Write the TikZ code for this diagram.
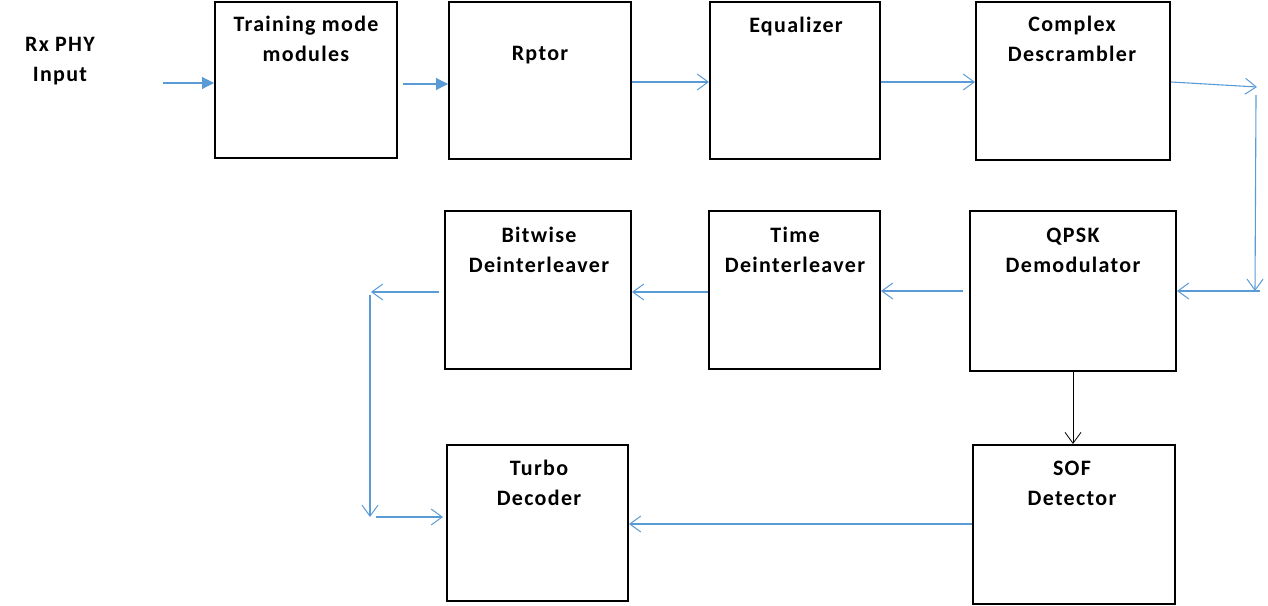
\documentclass[tikz,border=0pt]{standalone}
\usepackage{fontspec}
\setmainfont{Carlito}
\newfontfamily\lblfont[LetterSpace=6]{Carlito}
\usetikzlibrary{arrows.meta}
\definecolor{lblue}{HTML}{5B9BD5}
\begin{document}
\begin{tikzpicture}[x=1pt,y=-1pt,
  blk/.style={draw=black,line width=2pt,inner sep=0pt},
  lbl/.style={font=\lblfont\bfseries\fontsize{22}{29.5}\selectfont,align=center,anchor=base,inner sep=0pt},
  flow/.style={draw=lblue,line width=1.1pt,-{Straight Barb[length=11pt,width=16pt,line width=1pt]}},
  fflow/.style={draw=lblue,line width=1.1pt,-{Triangle[length=12pt,width=12pt]}},
  bflow/.style={draw=black,line width=0.8pt,-{Straight Barb[length=11pt,width=16pt,line width=0.8pt]}}]
\useasboundingbox (0,0) rectangle (1268,605);
% boxes
\node[blk,minimum width=182pt,minimum height=156pt] (tm) at (306,80) {};
\node[blk,minimum width=182pt,minimum height=157pt] (rp) at (540,80.5) {};
\node[blk,minimum width=170pt,minimum height=157pt] (eq) at (795,80.5) {};
\node[blk,minimum width=194pt,minimum height=158pt] (cd) at (1073,81) {};
\node[blk,minimum width=206pt,minimum height=160pt] (qd) at (1073,291) {};
\node[blk,minimum width=171pt,minimum height=158pt] (td) at (794.5,290) {};
\node[blk,minimum width=186pt,minimum height=158pt] (bw) at (538,290) {};
\node[blk,minimum width=181pt,minimum height=156pt] (tb) at (537.5,523) {};
\node[blk,minimum width=202pt,minimum height=159pt] (sd) at (1074,524.5) {};
% labels (anchor = baseline of last line)
\node[lbl] (tin) at (60,81) {Rx PHY\\Input};
\node[lbl] (tmt) at (306,61) {Training mode\\modules};
\node[lbl] (rpt) at (540,60) {Rptor};
\node[lbl] (eqt) at (796,32) {Equalizer};
\node[lbl] (cdt) at (1072,61) {Complex\\Descrambler};
\node[lbl] (qdt) at (1073,272) {QPSK\\Demodulator};
\node[lbl] (tdt) at (795,272) {Time\\Deinterleaver};
\node[lbl] (bwt) at (539,272) {Bitwise\\Deinterleaver};
\node[lbl] (tbt) at (539,505) {Turbo\\Decoder};
\node[lbl] (sdt) at (1072,505) {SOF\\Detector};
% coordinates
\coordinate (s0) at (163,83);
\coordinate (c1) at (1257,87);
\coordinate (c1b) at (1256,95);
\coordinate (c2) at (1255,291);
\coordinate (c3) at (1260,291);
\coordinate (c4) at (371,292);
\coordinate (c4b) at (370,295);
\coordinate (c5) at (370,517);
\coordinate (c5b) at (376,517);
% connectors
\draw[fflow] (s0) -- (tm.west |- s0);
\draw[fflow,shorten <=5pt] (tm.east |- 0,84) -- (rp.west |- 0,84);
\draw[flow] (rp.east |- 0,82) -- (eq.west |- 0,82);
\draw[flow] (eq.east |- 0,82) -- (cd.west |- 0,82);
\draw[flow] (cd.east |- 0,82) -- (c1);
\draw[flow] (c1b) -- (c2);
\draw[flow] (c3) -- (qd.east |- c3);
\draw[flow,shorten <=6pt] (qd.west |- 0,291) -- (td.east |- 0,291);
\draw[flow] (td.west |- 0,292) -- (bw.east |- 0,292);
\draw[flow,shorten <=5pt] (bw.west |- 0,292) -- (c4);
\draw[flow] (c4b) -- (c5);
\draw[flow,shorten >=3pt] (c5b) -- (tb.west |- c5b);
\draw[flow] (sd.west |- 0,524) -- (tb.east |- 0,524);
\draw[bflow] (qd.south) -- (qd.south |- sd.north);
\end{tikzpicture}
\end{document}
